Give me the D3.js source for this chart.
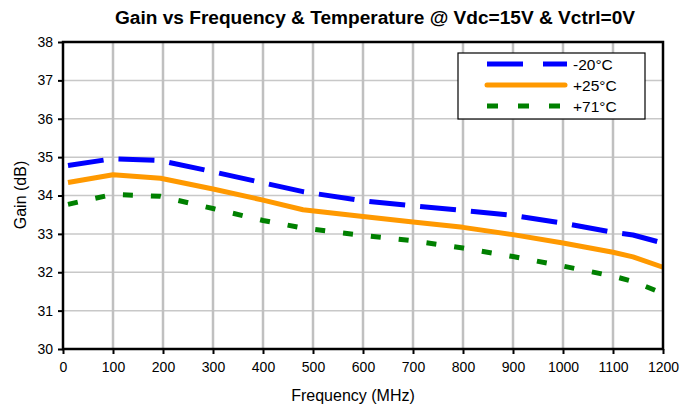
<!DOCTYPE html>
<html><head><meta charset="utf-8">
<script src="https://cdn.jsdelivr.net/npm/d3@7"></script>
<style>body{margin:0;background:#fff}svg{display:block;font-family:"Liberation Sans",Arial,sans-serif}</style>
</head><body>
<svg id="c" width="692" height="408"></svg>
<script>
const freqs = [10, 100, 195, 300, 400, 480, 600, 700, 800, 900, 1000, 1100, 1140, 1200];
const gainM20 = [34.78, 34.96, 34.91, 34.62, 34.33, 34.1, 33.86, 33.73, 33.61, 33.48, 33.28, 33.04, 32.97, 32.76];
const gainP25 = [34.34, 34.54, 34.45, 34.17, 33.88, 33.63, 33.45, 33.31, 33.17, 32.98, 32.76, 32.52, 32.4, 32.13];
const gainP71 = [33.77, 34.03, 33.98, 33.66, 33.35, 33.15, 32.96, 32.82, 32.63, 32.41, 32.16, 31.9, 31.76, 31.45];
const seriesNames = ["-20°C", "+25°C", "+71°C"];
const xTicks = [0,100,200,300,400,500,600,700,800,900,1000,1100,1200];
const yTicks = [30,31,32,33,34,35,36,37,38];

const svg = d3.select("#c");
const L = 63, R = 663, T = 42, B = 349;
const x = d3.scaleLinear().domain([0,1200]).range([L,R]);
const y = d3.scaleLinear().domain([30,38]).range([B,T]);

// title
svg.append("text").attr("x",375).attr("y",24).attr("text-anchor","middle")
  .attr("font-size",18).attr("font-weight","bold")
  .attr("textLength",520).attr("lengthAdjust","spacingAndGlyphs")
  .text("Gain vs Frequency & Temperature @ Vdc=15V & Vctrl=0V");

// gridlines
svg.append("g").selectAll("line").data(yTicks.slice(1,-1)).join("line")
  .attr("x1",L).attr("x2",R).attr("y1",d=>y(d)).attr("y2",d=>y(d))
  .attr("stroke","#c8c8c8").attr("stroke-width",1.5);
svg.append("g").selectAll("line").data(xTicks.slice(1,-1)).join("line")
  .attr("y1",T).attr("y2",B).attr("x1",d=>x(d)).attr("x2",d=>x(d))
  .attr("stroke","#c0c0c0").attr("stroke-width",2.5);

// axes
const ya = svg.append("g").attr("transform",`translate(${L},0)`)
  .call(d3.axisLeft(y).tickValues(yTicks).tickFormat(d3.format("d")).tickSize(5).tickPadding(5));
const xa = svg.append("g").attr("transform",`translate(0,${B})`)
  .call(d3.axisBottom(x).tickValues(xTicks).tickFormat(d3.format("d")).tickSize(5).tickPadding(8));
[ya,xa].forEach(a=>{
  a.selectAll("text").attr("font-size",14).attr("fill","#000").attr("font-family","Liberation Sans, Arial, sans-serif");
  a.selectAll("line").attr("stroke","#000").attr("stroke-width",2);
  a.select(".domain").remove();
});

// series
const series = [
  {name:seriesNames[0], vals:gainM20, color:"#0000ff", dash:"36,15"},
  {name:seriesNames[1], vals:gainP25, color:"#ff9900", dash:null},
  {name:seriesNames[2], vals:gainP71, color:"#008000", dash:"10,18"}
];
const line = d3.line().x(d=>x(d[0])).y(d=>y(d[1]));
series.forEach(s=>{
  svg.append("path").datum(freqs.map((f,i)=>[f,s.vals[i]]))
    .attr("d",line).attr("fill","none").attr("stroke",s.color)
    .attr("stroke-width",5).attr("stroke-dasharray",s.dash).attr("stroke-linejoin","round");
});

// frame
svg.append("rect").attr("x",L).attr("y",T).attr("width",R-L).attr("height",B-T)
  .attr("fill","none").attr("stroke","#000").attr("stroke-width",2.5);

// axis titles
svg.append("text").attr("x",353).attr("y",401).attr("text-anchor","middle").attr("font-size",16).text("Frequency (MHz)");
svg.append("text").attr("transform","translate(26,195) rotate(-90)").attr("text-anchor","middle").attr("font-size",16).text("Gain (dB)");

// legend
const lg = svg.append("g");
lg.append("rect").attr("x",458).attr("y",53).attr("width",187).attr("height",66)
  .attr("fill","#fff").attr("stroke","#000").attr("stroke-width",1.2);
const legDash = ["36,20", null, "11,20"];
series.forEach((s,i)=>{
  const yy = 64 + i*21;
  lg.append("line").attr("x1",487).attr("x2",i===1?565:567).attr("y1",yy).attr("y2",yy)
    .attr("stroke",s.color).attr("stroke-width",5).attr("stroke-dasharray",legDash[i])
    .attr("stroke-linecap",i===1?"round":"butt");
  lg.append("text").attr("x",573).attr("y",yy+5.5).attr("font-size",15.5).text(s.name);
});
</script>
</body></html>
